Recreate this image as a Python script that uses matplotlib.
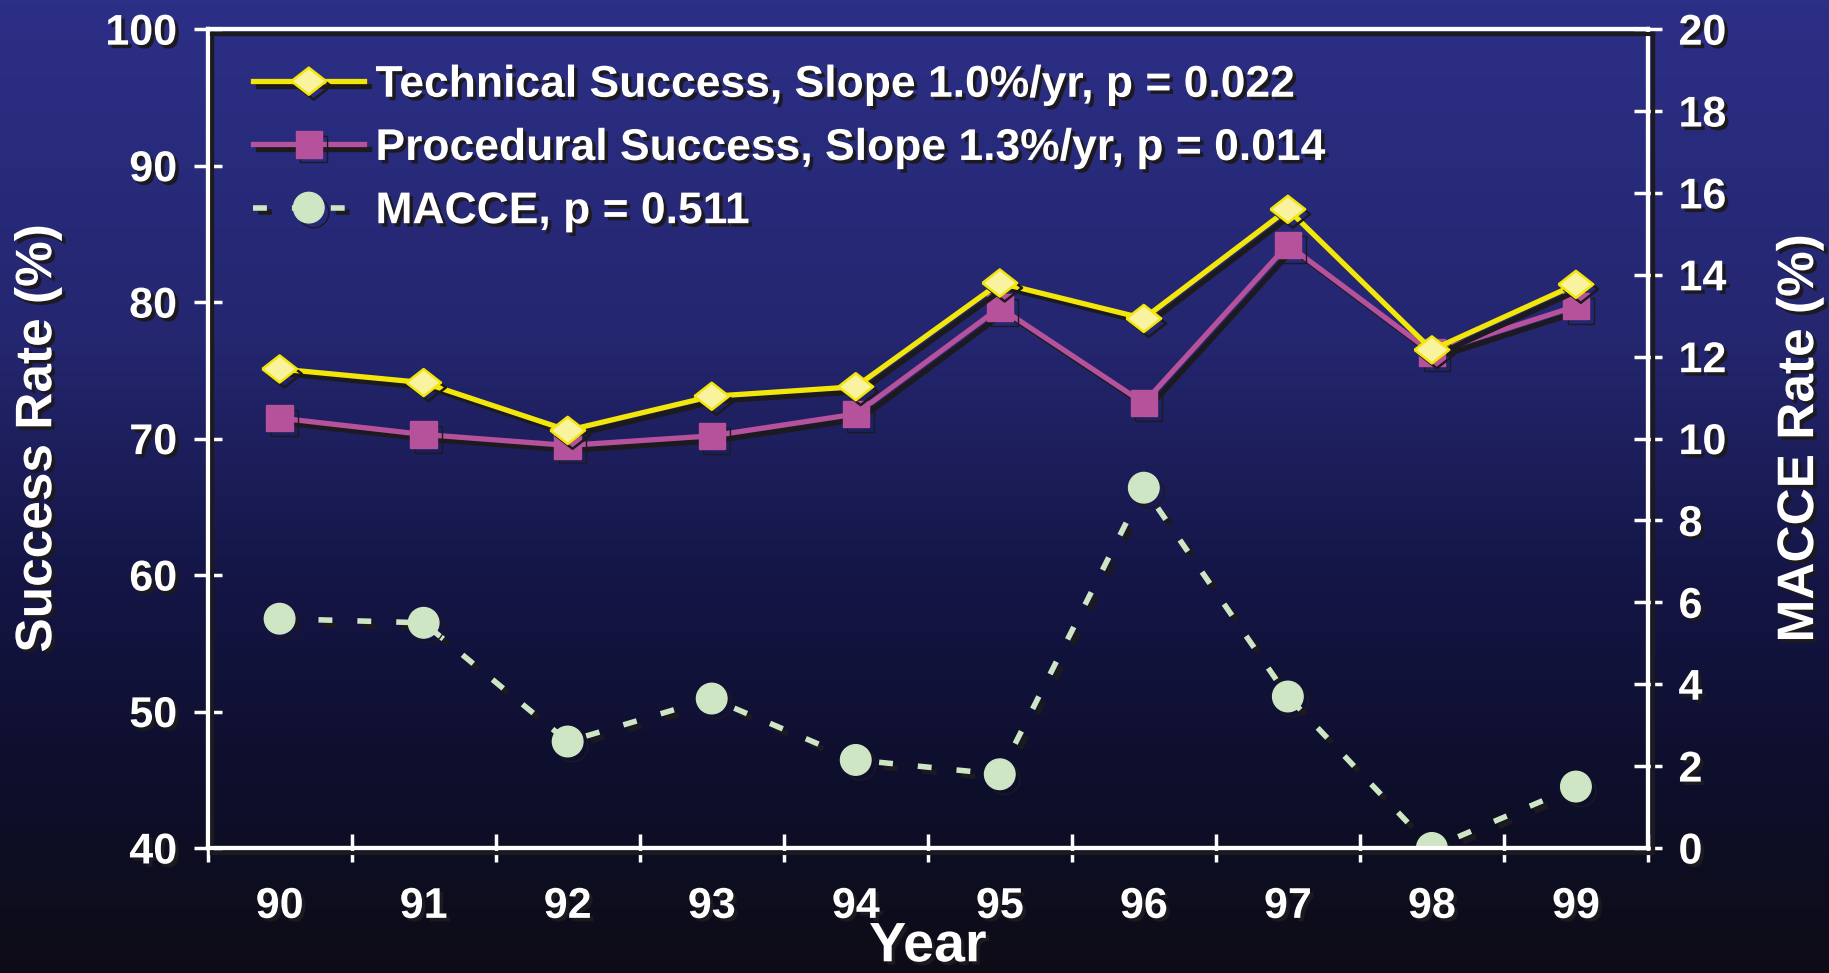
import numpy as np
import matplotlib
matplotlib.use("Agg")
import matplotlib.pyplot as plt
import matplotlib.patheffects as pe
from matplotlib.colors import LinearSegmentedColormap

plt.rcParams['font.family'] = ['Liberation Sans', 'DejaVu Sans']
plt.rcParams['font.weight'] = 'bold'
plt.rcParams['axes.labelweight'] = 'bold'

# yearly outcome data
years = [90, 91, 92, 93, 94, 95, 96, 97, 98, 99]
technical = [75.1, 74.1, 70.6, 73.1, 73.8, 81.4, 78.8, 86.8, 76.5, 81.3]
procedural = [71.5, 70.3, 69.5, 70.2, 71.8, 79.6, 72.6, 84.2, 76.3, 79.7]
macce = [5.6, 5.5, 2.6, 3.65, 2.15, 1.8, 8.8, 3.7, 0.0, 1.5]

tech_label = "Technical Success, Slope 1.0%/yr, p = 0.022"
proc_label = "Procedural Success, Slope 1.3%/yr, p = 0.014"
macce_label = "MACCE, p = 0.511"

W, H = 1829, 973
fig = plt.figure(figsize=(W / 100, H / 100), dpi=100)

# background: navy fading to near-black
bg = fig.add_axes([0, 0, 1, 1], zorder=-10)
bg_cmap = LinearSegmentedColormap.from_list(
    "bg", [(0.0, "#2c2f86"), (0.35, "#24266f"), (0.6, "#141545"), (0.8, "#0e0f2c"), (1.0, "#0d0c16")])
grad = np.linspace(0, 1, 256).reshape(-1, 1)
bg.imshow(grad, aspect="auto", cmap=bg_cmap, extent=[0, 1, 0, 1], origin="upper")
bg.axis("off")

ax = fig.add_axes([0.1135, 0.1285, 0.7875, 0.8415])
ax.set_facecolor("none")
ax2 = ax.twinx()

shadow = pe.SimpleLineShadow(offset=(3.5, -3.5), shadow_color="#1c1a1e", alpha=1.0)
line_fx = [shadow, pe.Normal()]
text_fx = [pe.SimplePatchShadow(offset=(2.5, -2.5), shadow_rgbFace="#1c1a1e", alpha=1.0), pe.Normal()]

diamond = [(-1, 0), (0, 0.78), (1, 0), (0, -0.78), (-1, 0)]

ax.plot(years, technical, color="#f3e60a", lw=3.8, marker=diamond, ms=25,
        mfc="#f9f3a0", mec="#f3e60a", mew=1.8, label=tech_label,
        path_effects=line_fx, zorder=4)
ax.plot(years, procedural, color="#b6529b", lw=3.8, marker="s", ms=19,
        mfc="#b6529b", mec="#b6529b", label=proc_label,
        path_effects=line_fx, zorder=3)
l3, = ax2.plot(years, macce, color="#cfe6c4", lw=4, ls=(0, (2.5, 4.5)), marker="o",
               ms=22, mfc="#cfe6c4", mec="#cfe6c4", label=macce_label,
               path_effects=line_fx, zorder=3)

ax.set_xlim(89.5, 99.5)
ax.set_ylim(40, 100)
ax2.set_ylim(0, 20)
ax.set_yticks(np.arange(40, 101, 10))
ax2.set_yticks(np.arange(0, 21, 2))

# boundary ticks between years, labels centred on each year
ax.set_xticks(np.arange(89.5, 100, 1))
ax.set_xticklabels([])
ax.set_xticks(years, minor=True)
ax.set_xticklabels([str(y) for y in years], minor=True)
ax.tick_params(axis="x", which="minor", length=0, pad=28, labelsize=31, colors="white")
ax.tick_params(axis="x", which="major", direction="inout", length=20, width=2.5, color="white")
ax.tick_params(axis="y", direction="inout", length=20, width=2.5, color="white",
               labelsize=31, labelcolor="white", pad=12)
ax2.tick_params(axis="y", direction="inout", length=20, width=2.5, color="white",
                labelsize=31, labelcolor="white", pad=12)

for a in (ax, ax2):
    for s in a.spines.values():
        s.set_color("white")
        s.set_linewidth(3)
        s.set_path_effects(line_fx)
    for t in a.get_xticklabels(which="both") + a.get_yticklabels():
        t.set_path_effects(text_fx)
        t.set_fontweight("bold")

ax.set_ylabel("Success Rate (%)", fontsize=37, color="white", labelpad=31,
              fontweight="bold", path_effects=text_fx)
ax2.set_ylabel("MACCE Rate (%)", fontsize=37, color="white", labelpad=35,
               fontweight="bold", path_effects=text_fx)
ax.set_xlabel("Year", fontsize=40, color="white", labelpad=-4,
              fontweight="bold", path_effects=text_fx)

h1, lab1 = ax.get_legend_handles_labels()
leg = ax.legend(h1 + [l3], lab1 + [macce_label], loc="upper left",
                bbox_to_anchor=(0.007, 1.0), frameon=False, fontsize=32,
                handlelength=2.5, handletextpad=0.25, labelspacing=0.5,
                borderaxespad=0.4)
for t in leg.get_texts():
    t.set_color("white")
    t.set_path_effects(text_fx)

ax.set_zorder(ax2.get_zorder() + 1)
fig.savefig("out.png", dpi=100)
